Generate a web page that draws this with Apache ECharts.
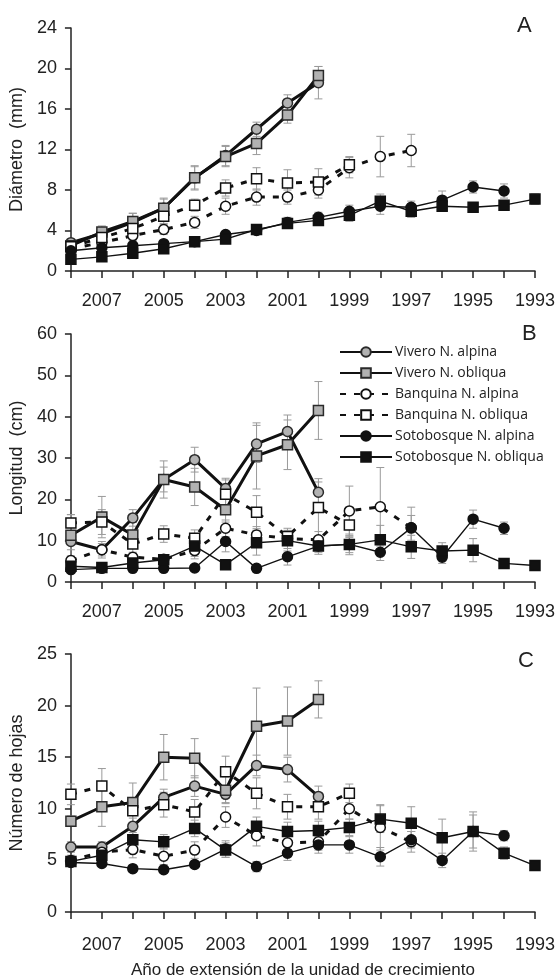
<!DOCTYPE html>
<html>
<head>
<meta charset="utf-8">
<script src="https://cdn.jsdelivr.net/npm/echarts@6/dist/echarts.min.js"></script>
<style>html,body{margin:0;padding:0;background:#fff}#c{width:558px;height:980px}</style>
</head>
<body>
<div id="c"></div>
<script>
const years = ['2008','2007','2006','2005','2004','2003','2002','2001','2000','1999','1998','1997','1996','1995','1994','1993'];
const seriesNames = ['Vivero N. alpina','Vivero N. obliqua','Banquina N. alpina','Banquina N. obliqua','Sotobosque N. alpina','Sotobosque N. obliqua'];

// Panel A: Diámetro (mm)
const A_vivAlp = [2.8, 3.7, 4.8, 6.2, 9.2, 11.4, 14.0, 16.6, 18.6];
const A_vivObl = [2.5, 3.85, 4.9, 6.2, 9.2, 11.3, 12.6, 15.4, 19.3];
const A_banAlp = [2.2, 2.8, 3.5, 4.1, 4.8, 6.4, 7.3, 7.3, 8.0, 10.2, 11.3, 11.9];
const A_banObl = [2.4, 3.3, 4.2, 5.4, 6.5, 8.2, 9.1, 8.7, 8.8, 10.5];
const A_sotAlp = [2.0, 2.3, 2.5, 2.7, 2.9, 3.6, 4.0, 4.8, 5.3, 5.9, 6.4, 6.3, 7.0, 8.3, 7.9];
const A_sotObl = [1.15, 1.4, 1.75, 2.2, 2.9, 3.15, 4.1, 4.7, 5.0, 5.5, 6.9, 5.9, 6.4, 6.3, 6.5, 7.1];
const A_err_vivAlp = [0.3, 0.6, 0.9, 1.0, 1.2, 1.0, 0.7, 0.8, 1.6];
const A_err_vivObl = [0.3, 0.6, 0.8, 0.9, 1.1, 1.0, 1.1, 0.8, 0.9];
const A_err_banAlp = [0.3, 0.4, 0.5, 0.5, 0.6, 0.8, 0.8, 0.7, 0.8, 1.0, 2.0, 1.6];
const A_err_banObl = [0.3, 0.5, 0.6, 0.7, 0.6, 0.8, 1.1, 1.3, 1.3, 0.8];
const A_err_sotAlp = [0.2, 0.3, 0.3, 0.3, 0.3, 0.3, 0.4, 0.5, 0.5, 0.6, 0.8, 0.6, 0.9, 0.6, 0.7];
const A_err_sotObl = [0.2, 0.3, 0.3, 0.3, 0.3, 0.3, 0.4, 0.5, 0.5, 0.6, 0.7, 0.6, 0.5, 0.4, 0.4, 0.5];

// Panel B: Longitud (cm)
const B_vivAlp = [9.8, 7.8, 15.5, 24.8, 29.6, 22.6, 33.4, 36.4, 21.7];
const B_vivObl = [11.3, 15.7, 11.4, 24.8, 23.0, 17.5, 30.5, 33.2, 41.5];
const B_banAlp = [5.2, 7.8, 6.0, 5.5, 7.6, 13.0, 11.4, 10.5, 10.2, 17.2, 18.2, 13.1];
const B_banObl = [14.3, 14.5, 9.2, 11.6, 10.6, 21.2, 16.9, 11.0, 18.0, 13.8];
const B_sotAlp = [3.0, 3.3, 3.3, 3.3, 3.4, 9.8, 3.3, 6.1, 8.7, 9.1, 7.2, 13.1, 6.0, 15.2, 13.0];
const B_sotObl = [3.8, 3.5, 4.6, 5.4, 8.7, 4.2, 9.5, 10.0, 8.7, 9.1, 10.2, 8.5, 7.5, 7.7, 4.5, 4.0];
const B_err_vivAlp = [2, 2, 2, 3, 3, 2.5, 4.5, 4, 2.5];
const B_err_vivObl = [5, 5, 3, 4.5, 4.5, 3, 8, 6, 7];
const B_err_banAlp = [1, 1.5, 1, 1, 2, 2, 2, 1.5, 2, 6, 9.5, 3];
const B_err_banObl = [2, 3, 2, 2, 2, 3.5, 4, 2, 7, 3];
const B_err_sotAlp = [0.6, 0.6, 0.6, 0.6, 0.6, 2.5, 0.6, 2, 1.5, 2, 2, 5, 1.5, 2.2, 1.5];
const B_err_sotObl = [0.6, 0.6, 0.8, 1, 2.5, 0.8, 3, 2.5, 2, 2.5, 3.5, 2.8, 2, 2.8, 1, 0.8];

// Panel C: Número de hojas
const C_vivAlp = [6.3, 6.3, 8.3, 11.1, 12.2, 11.4, 14.2, 13.8, 11.2];
const C_vivObl = [8.8, 10.2, 10.6, 15.0, 14.9, 11.8, 18.0, 18.5, 20.6];
const C_banAlp = [5.0, 5.8, 6.05, 5.4, 6.0, 9.2, 7.4, 6.7, 6.8, 10.0, 8.2, 6.8];
const C_banObl = [11.4, 12.2, 9.8, 10.4, 9.7, 13.6, 11.5, 10.2, 10.2, 11.5];
const C_sotAlp = [4.8, 4.7, 4.2, 4.1, 4.6, 6.1, 4.4, 5.7, 6.5, 6.5, 5.35, 7.0, 5.0, 7.8, 7.4];
const C_sotObl = [4.9, 5.5, 7.0, 6.8, 8.1, 6.0, 8.3, 7.8, 7.9, 8.2, 9.0, 8.6, 7.2, 7.8, 5.7, 4.5];
const C_err_vivAlp = [0.5, 0.5, 0.8, 0.8, 1.0, 0.8, 1.0, 1.2, 1.0];
const C_err_vivObl = [0.5, 1.9, 1.9, 2.2, 1.9, 1.3, 3.7, 3.3, 1.8];
const C_err_banAlp = [0.5, 0.6, 0.8, 0.8, 0.8, 1.0, 1.0, 0.8, 0.8, 1.0, 2.2, 1.0];
const C_err_banObl = [1.0, 1.7, 1.2, 1.2, 1.2, 1.5, 1.5, 1.2, 1.2, 0.9];
const C_err_sotAlp = [0.3, 0.3, 0.3, 0.3, 0.3, 0.8, 0.5, 0.7, 0.8, 0.8, 0.9, 0.8, 0.7, 1.6, 0.5];
const C_err_sotObl = [0.4, 0.5, 0.7, 0.7, 0.8, 0.7, 0.9, 0.9, 0.9, 0.8, 1.3, 1.6, 1.8, 1.9, 0.6, 0.4];

const yAxisNames = ['Diámetro  (mm)', 'Longitud  (cm)', 'Número de hojas'];
const xAxisTitle = 'Año de extensión de la unidad de crecimiento';
const panelLetters = ['A', 'B', 'C'];

const panels = [
  {vals:[A_vivAlp,A_vivObl,A_banAlp,A_banObl,A_sotAlp,A_sotObl], errs:[A_err_vivAlp,A_err_vivObl,A_err_banAlp,A_err_banObl,A_err_sotAlp,A_err_sotObl], max:24, interval:4},
  {vals:[B_vivAlp,B_vivObl,B_banAlp,B_banObl,B_sotAlp,B_sotObl], errs:[B_err_vivAlp,B_err_vivObl,B_err_banAlp,B_err_banObl,B_err_sotAlp,B_err_sotObl], max:60, interval:10},
  {vals:[C_vivAlp,C_vivObl,C_banAlp,C_banObl,C_sotAlp,C_sotObl], errs:[C_err_vivAlp,C_err_vivObl,C_err_banAlp,C_err_banObl,C_err_sotAlp,C_err_sotObl], max:25, interval:5}
];

const FONT = '"Liberation Sans", Arial, sans-serif';
const grids = [
  {left:68, right:23, top:28, height:243},
  {left:68, right:23, top:334, height:248},
  {left:68, right:23, top:654, height:263}
];

const styles = [
  {symbol:'circle', fill:'#b2b2b2', border:'#2a2a2a', lw:3, type:'solid'},
  {symbol:'rect', fill:'#b2b2b2', border:'#2a2a2a', lw:3, type:'solid'},
  {symbol:'circle', fill:'#ffffff', border:'#111', lw:3, type:[6,8]},
  {symbol:'rect', fill:'#ffffff', border:'#111', lw:3, type:[6,8]},
  {symbol:'circle', fill:'#111111', border:'#111', lw:1.4, type:'solid'},
  {symbol:'rect', fill:'#111111', border:'#111', lw:1.4, type:'solid'}
];

const xAxes = [], yAxes = [], series = [];
panels.forEach((p, gi) => {
  xAxes.push({
    type:'category', gridIndex:gi, data:years, boundaryGap:false,
    name: gi === 2 ? xAxisTitle : '', nameLocation:'middle', nameGap:50,
    nameTextStyle:{fontFamily:FONT, fontSize:17, color:'#222'},
    axisLine:{lineStyle:{color:'#222', width:1.5}},
    axisTick:{show:true, interval:0, length:7, lineStyle:{color:'#222', width:1.5}},
    axisLabel:{interval:(i)=> i % 2 === 1, margin:gi===2?24:21, fontFamily:FONT, fontSize:18, color:'#222'},
    splitLine:{show:false}
  });
  yAxes.push({
    type:'value', gridIndex:gi, min:0, max:p.max, interval:p.interval,
    name:yAxisNames[gi], nameLocation:'middle', nameGap:34, nameRotate:90,
    nameTextStyle:{fontFamily:FONT, fontSize:18, color:'#222'},
    axisLine:{show:true, lineStyle:{color:'#222', width:1.5}},
    axisTick:{show:true, length:6, lineStyle:{color:'#222', width:1.5}},
    axisLabel:{margin:14, fontFamily:FONT, fontSize:18, color:'#222'},
    splitLine:{show:false}
  });
  p.vals.forEach((vals, si) => {
    const st = styles[si];
    const errData = vals.map((v, i) => [i, v - p.errs[si][i], v + p.errs[si][i]]);
    series.push({
      type:'custom', name:'err'+gi+'_'+si, xAxisIndex:gi, yAxisIndex:gi, z:1, silent:true,
      data:errData, encode:{x:0, y:[1,2]},
      renderItem:(params, api) => {
        const lo = api.coord([api.value(0), api.value(1)]);
        const hi = api.coord([api.value(0), api.value(2)]);
        const s = {stroke:'#9a9a9a', lineWidth:1};
        return {type:'group', children:[
          {type:'line', shape:{x1:lo[0], y1:lo[1], x2:hi[0], y2:hi[1]}, style:s},
          {type:'line', shape:{x1:lo[0]-4, y1:lo[1], x2:lo[0]+4, y2:lo[1]}, style:s},
          {type:'line', shape:{x1:hi[0]-4, y1:hi[1], x2:hi[0]+4, y2:hi[1]}, style:s}
        ]};
      }
    });
    series.push({
      type:'line', name:seriesNames[si], xAxisIndex:gi, yAxisIndex:gi, z:3 + (si>=4?1:0),
      data:vals, symbol:st.symbol, symbolSize:10, showAllSymbol:true,
      lineStyle:{color:'#111', width:st.lw, type:st.type},
      itemStyle:{color:st.fill, borderColor:st.border, borderWidth:1.5},
      emphasis:{disabled:true}, animation:false
    });
  });
});

const chart = echarts.init(document.getElementById('c'), null, {renderer:'canvas'});
chart.setOption({
  animation:false,
  backgroundColor:'#fff',
  grid:grids,
  xAxis:xAxes,
  yAxis:yAxes,
  legend:{
    data:seriesNames, orient:'vertical', left:334, top:340, itemWidth:52, itemHeight:12, itemGap:7,
    textStyle:{fontFamily:'"Open Sans", sans-serif', fontSize:14, color:'#222', padding:[0,0,0,-2]},
    selectedMode:false
  },
  graphic:[
    {type:'text', left:517, top:15, style:{text:panelLetters[0], font:'22px "Liberation Sans", Arial', fill:'#222'}},
    {type:'text', left:522, top:323, style:{text:panelLetters[1], font:'22px "Liberation Sans", Arial', fill:'#222'}},
    {type:'text', left:518, top:650, style:{text:panelLetters[2], font:'22px "Liberation Sans", Arial', fill:'#222'}}
  ],
  series:series
});
</script>
</body>
</html>
